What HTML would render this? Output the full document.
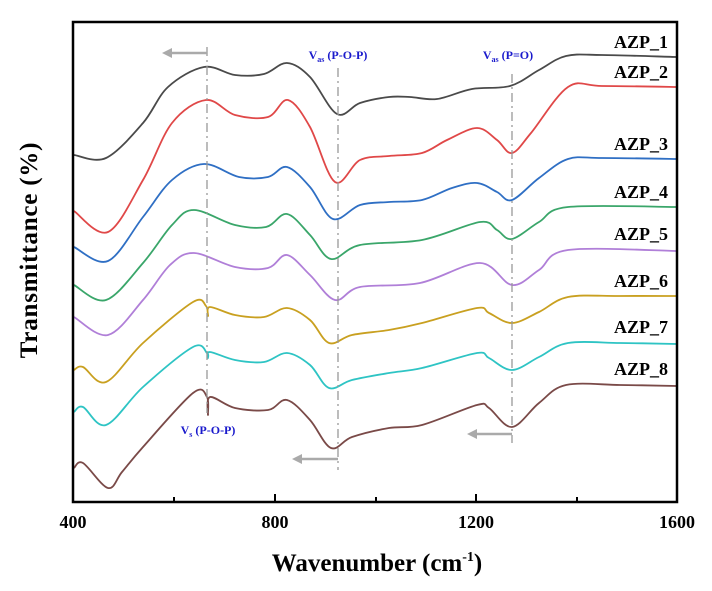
<!DOCTYPE html>
<html><head><meta charset="utf-8"><style>
html,body{margin:0;padding:0;background:#fff;}
svg{display:block;font-family:"Liberation Serif",serif;}
</style></head><body>
<svg id="s" width="712" height="591" viewBox="0 0 712 591" xmlns="http://www.w3.org/2000/svg">
<rect x="0" y="0" width="712" height="591" fill="#fff"/>
<g id="curves" fill="none" stroke-width="1.8" stroke-linejoin="round"></g>
<g stroke="#999" stroke-width="1.3" stroke-dasharray="9,4,2,4" fill="none">
<line x1="207" y1="47" x2="207" y2="413"/>
<line x1="338" y1="68" x2="338" y2="470"/>
<line x1="512" y1="74" x2="512" y2="443"/>
</g>
<g stroke="#aaa" stroke-width="2.5" fill="#aaa">
<line x1="207" y1="53" x2="170" y2="53"/><polygon points="162,53 172,48 172,58" stroke="none"/>
<line x1="338" y1="459" x2="300" y2="459"/><polygon points="292,459 302,454 302,464" stroke="none"/>
<line x1="512" y1="434" x2="475" y2="434"/><polygon points="467,434 477,429 477,439" stroke="none"/>
</g>
<g fill="#1a1acc" font-weight="bold" font-size="12" text-anchor="middle">
<text x="338" y="59">V<tspan font-size="8" dy="3">as</tspan><tspan dy="-3"> (P-O-P)</tspan></text>
<text x="508" y="59">V<tspan font-size="8" dy="3">as</tspan><tspan dy="-3"> (P=O)</tspan></text>
<text x="208" y="434">V<tspan font-size="8" dy="3">s</tspan><tspan dy="-3"> (P-O-P)</tspan></text>
</g>
<g font-weight="bold" font-size="18" text-anchor="end" fill="#000">
<text x="668" y="48">AZP_1</text>
<text x="668" y="78">AZP_2</text>
<text x="668" y="150">AZP_3</text>
<text x="668" y="198">AZP_4</text>
<text x="668" y="240">AZP_5</text>
<text x="668" y="287">AZP_6</text>
<text x="668" y="333">AZP_7</text>
<text x="668" y="375">AZP_8</text>
</g>
<rect x="73" y="22" width="604" height="480" fill="none" stroke="#000" stroke-width="2.5"/>
<g stroke="#000" stroke-width="2">
<line x1="174" y1="502" x2="174" y2="497"/>
<line x1="275" y1="502" x2="275" y2="494"/>
<line x1="376" y1="502" x2="376" y2="497"/>
<line x1="476" y1="502" x2="476" y2="494"/>
<line x1="577" y1="502" x2="577" y2="497"/>
</g>
<g font-weight="bold" font-size="18" text-anchor="middle" fill="#000">
<text x="73" y="528">400</text>
<text x="275" y="528">800</text>
<text x="476" y="528">1200</text>
<text x="677" y="528">1600</text>
</g>
<text x="377" y="571" font-weight="bold" font-size="25" text-anchor="middle">Wavenumber (cm<tspan font-size="14" dy="-10">-1</tspan><tspan dy="10">)</tspan></text>
<text transform="translate(37,250) rotate(-90)" font-weight="bold" font-size="25" letter-spacing="0.8" text-anchor="middle">Transmittance (%)</text>
</svg>
<script>
var D=[
["#4a4a4a",[[74,155],[106,158],[143,123],[168,87],[204,67],[235,75],[264,74],[287,63],[310,77],[337,114],[360,103],[389,97],[410,97],[437,99],[472,89],[510,86],[539,70],[566,56],[602,55],[677,57]]],
["#e04848",[[74,211],[108,232],[143,180],[172,123],[206,100],[235,115],[268,117],[288,100],[310,127],[335,182],[360,160],[389,156],[422,153],[447,140],[477,128],[497,140],[512,153],[531,133],[568,87],[602,86],[677,87]]],
["#2f6fc4",[[74,247],[108,261],[143,217],[172,180],[204,164],[239,177],[268,177],[287,167],[310,187],[333,219],[360,205],[389,202],[422,200],[452,188],[477,183],[497,192],[512,200],[539,178],[568,159],[602,158],[677,159]]],
["#3aa66a",[[74,285],[106,300],[143,263],[172,225],[194,210],[235,225],[266,227],[287,214],[310,235],[331,259],[360,245],[422,240],[480,222],[497,230],[512,239],[539,222],[568,207],[677,207]]],
["#b07fd8",[[74,317],[108,335],[143,300],[170,265],[194,253],[235,267],[268,268],[287,255],[310,275],[335,300],[360,287],[420,283],[480,263],[512,285],[539,270],[568,250],[677,251]]],
["#c9a020",[[74,370],[83,367],[106,382],[143,343],[193,302],[206,306],[208,316],[210,307],[235,315],[264,317],[287,308],[310,320],[329,343],[352,335],[389,330],[422,323],[477,308],[489,313],[512,323],[539,312],[568,297],[620,296],[677,296]]],
["#2ec4c4",[[74,412],[83,407],[106,425],[143,387],[193,347],[207,353],[208,358],[210,352],[235,360],[264,362],[287,353],[310,365],[329,388],[352,380],[389,373],[422,368],[477,353],[489,358],[512,370],[539,357],[568,343],[620,343],[677,344]]],
["#7a4a48",[[74,468],[83,463],[108,488],[122,472],[143,447],[193,393],[207,397],[208,415],[210,397],[235,408],[268,410],[287,400],[310,420],[331,448],[352,437],[389,428],[422,425],[477,405],[489,408],[512,427],[539,403],[566,385],[620,385],[677,386]]]
];
var g=document.getElementById("curves"),NS="http://www.w3.org/2000/svg";
D.forEach(function(c){var p=c[1],d="M"+p[0][0]+","+p[0][1];
for(var i=0;i<p.length-1;i++){var p0=p[i-1]||p[i],p1=p[i],p2=p[i+1],p3=p[i+2]||p2;
var c1x=p1[0]+(p2[0]-p0[0])/6,c1y=p1[1]+(p2[1]-p0[1])/6,c2x=p2[0]-(p3[0]-p1[0])/6,c2y=p2[1]-(p3[1]-p1[1])/6;
d+=" C"+c1x.toFixed(1)+","+c1y.toFixed(1)+" "+c2x.toFixed(1)+","+c2y.toFixed(1)+" "+p2[0]+","+p2[1];}
var e=document.createElementNS(NS,"path");e.setAttribute("d",d);e.setAttribute("stroke",c[0]);g.appendChild(e);});
</script>
</body></html>
